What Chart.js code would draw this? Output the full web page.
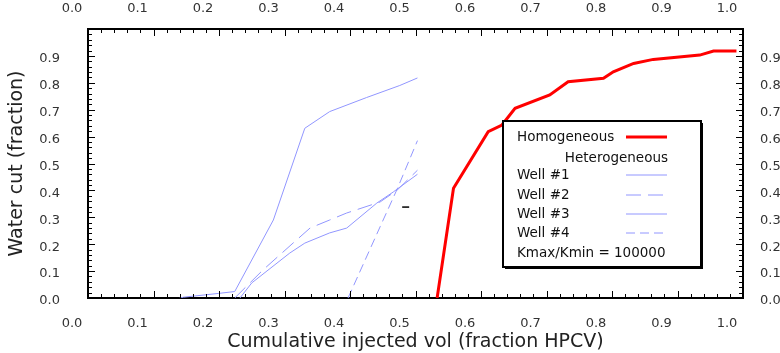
<!DOCTYPE html>
<html>
<head>
<meta charset="utf-8">
<script src="https://cdn.jsdelivr.net/npm/chart.js@4"></script>
<style>
  html, body { margin: 0; padding: 0; background: #fff; }
  #wrap { width: 780px; height: 353px; }
</style>
</head>
<body>
<div id="wrap"><canvas id="wcChart" width="780" height="353"></canvas></div>
<script>
// tick labels
const xTickLabels = ['0.0', '0.1', '0.2', '0.3', '0.4', '0.5', '0.6', '0.7', '0.8', '0.9', '1.0'];
const yTickLabels = ['0.0', '0.1', '0.2', '0.3', '0.4', '0.5', '0.6', '0.7', '0.8', '0.9'];

// Homogeneous case
const homX = [0.533, 0.558, 0.611, 0.632, 0.652, 0.705, 0.733, 0.787, 0.802, 0.833, 0.863, 0.934, 0.955, 0.99];
const homY = [0.0, 0.408, 0.618, 0.643, 0.705, 0.755, 0.804, 0.817, 0.841, 0.872, 0.887, 0.903, 0.918, 0.918];

// Heterogeneous wells
const well1X = [0.14, 0.146, 0.199, 0.224, 0.283, 0.331, 0.369, 0.425, 0.476, 0.503];
const well1Y = [0.0, 0.003, 0.017, 0.024, 0.29, 0.631, 0.693, 0.745, 0.79, 0.818];
const well2X = [0.224, 0.267, 0.313, 0.339, 0.369, 0.395, 0.446, 0.472, 0.503];
const well2Y = [0.0, 0.104, 0.204, 0.26, 0.29, 0.316, 0.357, 0.401, 0.475];
const well3X = [0.232, 0.25, 0.308, 0.331, 0.369, 0.395, 0.441, 0.466, 0.503];
const well3Y = [0.0, 0.056, 0.167, 0.204, 0.242, 0.26, 0.353, 0.394, 0.46];
const well4X = [0.397, 0.446, 0.472, 0.503];
const well4Y = [0.0, 0.265, 0.405, 0.585];

// stray mark in the plot
const markX = [0.485];
const markY = [0.338];

const ratioText = 'Kmax/Kmin = 100000';
const wellColor = 'rgb(145,150,255)';

function pts(xs, ys) {
    return xs.map(function(x, i) { return { x: x, y: ys[i] }; });
}

// inward major/minor tick marks on all four sides
const innerTicks = {
    id: 'innerTicks',
    afterDraw(chart) {
        const ctx = chart.ctx;
        const ca = chart.chartArea;
        const sx = chart.scales.x, sy = chart.scales.y;
        ctx.save();
        ctx.strokeStyle = '#000';
        ctx.lineWidth = 1;
        ctx.beginPath();
        for (let i = 0; i <= 50; i++) {
            const v = i / 50;
            const len = i % 5 === 0 ? 7 : 4;
            const px = Math.round(sx.getPixelForValue(v)) + 0.5;
            ctx.moveTo(px, ca.bottom); ctx.lineTo(px, ca.bottom - len);
            ctx.moveTo(px, ca.top); ctx.lineTo(px, ca.top + len);
            const py = Math.round(sy.getPixelForValue(v)) + 0.5;
            ctx.moveTo(ca.left, py); ctx.lineTo(ca.left + len, py);
            ctx.moveTo(ca.right, py); ctx.lineTo(ca.right - len, py);
        }
        ctx.stroke();
        ctx.restore();
    }
};

// boxed legend inside the plot
const boxLegend = {
    id: 'boxLegend',
    afterDraw(chart) {
        const ctx = chart.ctx;
        const left = 503, top = 121, right = 701, bottom = 267;
        ctx.save();
        ctx.fillStyle = '#fff';
        ctx.fillRect(left, top, right - left, bottom - top);
        ctx.strokeStyle = '#000';
        ctx.lineWidth = 2;
        ctx.strokeRect(left, top, right - left, bottom - top);
        ctx.fillRect.call(ctx, 0, 0, 0, 0);
        ctx.fillStyle = '#000';
        ctx.fillRect(right, top + 2, 2, bottom - top);
        ctx.fillRect(left + 2, bottom, right - left, 2);

        ctx.font = '13.5px "DejaVu Sans"';
        ctx.textBaseline = 'middle';
        ctx.fillStyle = '#111';
        const ds = chart.data.datasets;
        const rows = [137, 175, 195, 214, 233];
        let r = 0;
        ds.forEach(function(d) {
            if (!d.label) return;
            const y = rows[r++];
            ctx.textAlign = 'left';
            ctx.fillText(d.label, 517, y);
            ctx.strokeStyle = d.borderColor;
            ctx.lineWidth = d.borderWidth;
            ctx.setLineDash(d.borderDash || []);
            ctx.beginPath();
            ctx.moveTo(626, y);
            ctx.lineTo(667, y);
            ctx.stroke();
            ctx.setLineDash([]);
        });
        ctx.textAlign = 'right';
        ctx.fillText('Heterogeneous', 668, 158);
        ctx.textAlign = 'left';
        ctx.fillText(ratioText, 517, 253);
        ctx.restore();
    }
};

const tickFont = { family: 'DejaVu Sans', size: 13 };
const titleFont = { family: 'DejaVu Sans', size: 19 };

function xAxis(pos, h, pad) {
    return {
        type: 'linear', position: pos, min: 0, max: 1,
        grid: { display: false },
        border: { display: true, color: '#000', width: 2 },
        ticks: {
            stepSize: 0.1, maxRotation: 0, autoSkip: false,
            labelOffset: -16, padding: pad, color: '#333', font: tickFont,
            callback: function(v, i) { return xTickLabels[i] || ''; }
        },
        afterFit: function(s) { s.height = h; }
    };
}

function yAxis(pos, w, pad) {
    return {
        type: 'linear', position: pos, min: 0, max: 1,
        grid: { display: false },
        border: { display: true, color: '#000', width: 2 },
        ticks: {
            stepSize: 0.1, autoSkip: false,
            labelOffset: 3, padding: pad, color: '#333', font: tickFont,
            callback: function(v, i) { return yTickLabels[i] || ''; }
        },
        afterFit: function(s) { s.width = w; }
    };
}

const xBottom = xAxis('bottom', 55, 10);
xBottom.title = { display: true, text: 'Cumulative injected vol (fraction HPCV)', color: '#222', font: titleFont, padding: 0 };
const xTop = xAxis('top', 29, 5);
const yLeft = yAxis('left', 88, 20);
yLeft.title = { display: true, text: 'Water cut (fraction)', color: '#222', font: titleFont, padding: { top: 6, bottom: 0 } };
const yRight = yAxis('right', 37, 9);

new Chart(document.getElementById('wcChart').getContext('2d'), {
    type: 'line',
    data: {
        datasets: [
            { label: 'Homogeneous', data: pts(homX, homY), borderColor: '#ff0000', borderWidth: 3 },
            { label: 'Well #1', data: pts(well1X, well1Y), borderColor: wellColor, borderWidth: 1 },
            { label: 'Well #2', data: pts(well2X, well2Y), borderColor: wellColor, borderWidth: 1, borderDash: [15, 7] },
            { label: 'Well #3', data: pts(well3X, well3Y), borderColor: wellColor, borderWidth: 1 },
            { label: 'Well #4', data: pts(well4X, well4Y), borderColor: wellColor, borderWidth: 1, borderDash: [9, 5] },
            { label: '', data: pts(markX, markY), showLine: false, pointStyle: 'line', pointRadius: 3.5, borderColor: '#000', borderWidth: 1.5 }
        ]
    },
    options: {
        responsive: false,
        animation: false,
        layout: { padding: 0 },
        elements: { point: { radius: 0 }, line: { tension: 0, fill: false } },
        plugins: { legend: { display: false }, tooltip: { enabled: false } },
        scales: { x: xBottom, x2: xTop, y: yLeft, y2: yRight }
    },
    plugins: [innerTicks, boxLegend]
});
</script>
</body>
</html>
